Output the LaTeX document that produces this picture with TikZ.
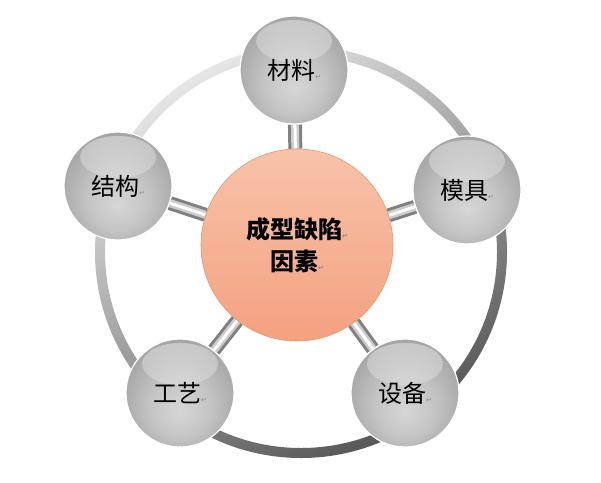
\documentclass[tikz,border=0pt]{standalone}
\usepackage{fontspec}
\setmainfont{Noto Sans CJK SC}
\newfontfamily\retfont{DejaVu Sans}
\usetikzlibrary{fadings,backgrounds}
\definecolor{coretop}{HTML}{F8C3AA}
\definecolor{corebot}{HTML}{F4A180}
\definecolor{coreline}{HTML}{E8946C}
\pgfdeclareradialshading{satglow}{\pgfpoint{0bp}{-9bp}}{%
  color(0bp)=(black!16); color(14bp)=(black!23); color(28bp)=(black!35);
  color(40bp)=(black!45); color(50bp)=(black!53)}
\tikzfading[name=fade down, top color=transparent!0, bottom color=transparent!100]
\newcommand{\retmark}{{\retfont\fontsize{7}{7}\selectfont\color{black!45}↵}}
\tikzset{
  satball/.style={circle,minimum size=108pt,inner sep=0pt,shading=satglow,
    draw=white,line width=1.2pt,font=\fontsize{24}{30}\selectfont,
    path picture={
      \fill[white,path fading=fade down,fill opacity=0.4]
        ([yshift=29pt]path picture bounding box.center) ellipse [x radius=38pt,y radius=21pt];}},
  coreball/.style={circle,minimum size=192pt,inner sep=0pt,top color=coretop,bottom color=corebot,
    draw=coreline,line width=0.6pt,align=center,font=\fontsize{24}{32}\selectfont\bfseries},
  spoke/.style={line width=3pt,draw=black!50,double=black!20,double distance=8pt,
    postaction={draw=white,line width=3pt}},
}
\begin{document}
\begin{tikzpicture}[x=1pt,y=-1pt]
\useasboundingbox (0,0) rectangle (601,482);
% ---- outer ring, light upper left, dark lower right
\shade[top color=black!10,middle color=black!30,bottom color=black!66,shading angle=30,even odd rule]
  (301,252) circle (206pt) (301,252) circle (196pt);
% ---- the core and its five factors
\node[coreball] (core) at (297,245) {成型缺陷\retmark\\因素\retmark};
\node[satball] (mat) at (294,70) {材料\retmark};
\node[satball] (mold) at (467,190) {模具\retmark};
\node[satball] (equip) at (405,393) {设备\retmark};
\node[satball] (craft) at (180,393) {工艺\retmark};
\node[satball] (struct) at (118,186) {结构\retmark};
% ---- spokes, behind the balls
\begin{scope}[on background layer]
  \foreach \S in {mat,mold,equip,craft,struct}
    \draw[spoke] (core) -- (\S);
\end{scope}
\end{tikzpicture}
\end{document}
